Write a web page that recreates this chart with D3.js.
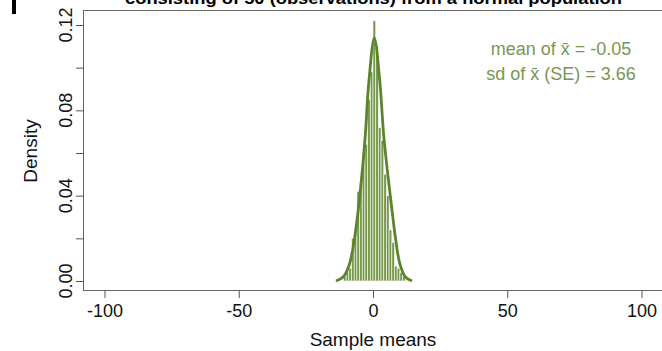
<!DOCTYPE html>
<html>
<head>
<meta charset="utf-8">
<script src="https://cdn.jsdelivr.net/npm/d3@7"></script>
<style>
  body { margin: 0; background: #fff; }
  text { font-family: "Liberation Sans", Arial, sans-serif; }
</style>
</head>
<body>
<div id="chart"></div>
<script>
// histogram bins (left edge, width 1) and densities
const binStarts = [-11, -10, -9, -8, -7, -6, -5, -4, -3, -2, -1, 0, 1, 2, 3, 4, 5, 6, 7, 8, 9, 10, 11]
const binDensity = [0.002, 0.005, 0.006, 0.020, 0.024, 0.042, 0.046, 0.060, 0.064, 0.085, 0.098, 0.122,
                    0.110, 0.072, 0.066, 0.050, 0.040, 0.024, 0.018, 0.007, 0.006, 0.004, 0.002]

// density curve points
const curveX = [-13.8, -11, -9, -7.5, -6, -4.5, -3, -1.5, 0.5, 2.5, 4, 5.5, 7, 8.5, 10, 12, 14.5]
const curveY = [0.000, 0.002, 0.007, 0.015, 0.028, 0.045, 0.066, 0.094, 0.114, 0.094, 0.068, 0.050, 0.034, 0.019, 0.008, 0.002, 0.000]

const xTicks = [-100, -50, 0, 50, 100]
const yTicks = [0, 0.02, 0.04, 0.06, 0.08, 0.10, 0.12]
const yLabels = [0, 0.04, 0.08, 0.12]

const titleText = 'consisting of 50 (observations) from a normal population'
const statLines = ['mean of  x\u0304 = -0.05', 'sd of  x\u0304 (SE) = 3.66']

const w = 662
const h = 351
const green = 'rgb(118,152,74)'
const darkGreen = 'rgb(92,132,44)'

const svg = d3.select('#chart')
              .append('svg')
              .attr('width', w)
              .attr('height', h)

const x = d3.scaleLinear().domain([-108, 108]).range([83, 663])
const y = d3.scaleLinear().domain([0, 0.12]).range([281, 25])

// plot frame
svg.append('rect')
   .attr('x', 83.5).attr('y', 10.5)
   .attr('width', 580).attr('height', 280)
   .attr('fill', 'none')
   .attr('stroke', '#666')
   .attr('stroke-width', 1)

// bars
svg.selectAll('rect.bar')
   .data(binStarts)
   .enter()
   .append('rect')
   .attr('class', 'bar')
   .attr('x', d => x(d))
   .attr('width', d => x(d + 1) - x(d))
   .attr('y', (d, i) => y(binDensity[i]))
   .attr('height', (d, i) => y(0) - y(binDensity[i]))
   .attr('fill', green)
   .attr('stroke', 'rgba(255,255,255,0.75)')
   .attr('stroke-width', 0.8)

// curve
const line = d3.line()
               .x(d => x(d[0]))
               .y(d => y(d[1]))
               .curve(d3.curveCatmullRom)

svg.append('path')
   .attr('d', line(curveX.map((v, i) => [v, curveY[i]])))
   .attr('fill', 'none')
   .attr('stroke', darkGreen)
   .attr('stroke-width', 2.8)
   .attr('stroke-linejoin', 'round')

// x axis
const xAxis = d3.axisBottom(x).tickValues(xTicks).tickSize(7).tickPadding(6).tickFormat(d3.format('d'))
const gx = svg.append('g')
              .attr('transform', 'translate(0,291)')
              .call(xAxis)
gx.select('.domain').remove()
gx.selectAll('line').attr('stroke', '#555')
gx.selectAll('text')
  .attr('fill', '#111')
  .style('font-size', '18px')
  .text(d => d < 0 ? '-' + Math.abs(d) : d)

// y axis
const yAxis = d3.axisLeft(y).tickValues(yTicks).tickSize(7).tickFormat('')
const gy = svg.append('g')
              .attr('transform', 'translate(83,0)')
              .call(yAxis)
gy.select('.domain').remove()
gy.selectAll('line').attr('stroke', '#555')

svg.selectAll('text.ylab')
   .data(yLabels)
   .enter()
   .append('text')
   .attr('class', 'ylab')
   .attr('transform', d => 'translate(72,' + y(d) + ') rotate(-90)')
   .attr('text-anchor', 'middle')
   .attr('fill', '#111')
   .style('font-size', '18px')
   .text(d => d.toFixed(2))

// axis titles
svg.append('text')
   .attr('x', 373).attr('y', 346)
   .attr('text-anchor', 'middle')
   .attr('fill', '#111')
   .style('font-size', '19px')
   .text('Sample means')

svg.append('text')
   .attr('transform', 'translate(37,151) rotate(-90)')
   .attr('text-anchor', 'middle')
   .attr('fill', '#111')
   .style('font-size', '19px')
   .text('Density')

// title, mostly cut off at the top
svg.append('text')
   .attr('x', 125).attr('y', 4)
   .attr('textLength', 497)
   .attr('lengthAdjust', 'spacingAndGlyphs')
   .attr('fill', '#000')
   .style('font-size', '17px')
   .style('font-weight', 'bold')
   .text(titleText)

svg.append('rect')
   .attr('x', 12).attr('y', 0)
   .attr('width', 4).attr('height', 14)
   .attr('fill', '#000')

// stats
svg.selectAll('text.stat')
   .data(statLines)
   .enter()
   .append('text')
   .attr('class', 'stat')
   .attr('x', 561)
   .attr('y', (d, i) => 55 + i * 25)
   .attr('text-anchor', 'middle')
   .attr('fill', 'rgb(122,150,82)')
   .style('font-size', '18px')
   .text(d => d)
</script>
</body>
</html>
